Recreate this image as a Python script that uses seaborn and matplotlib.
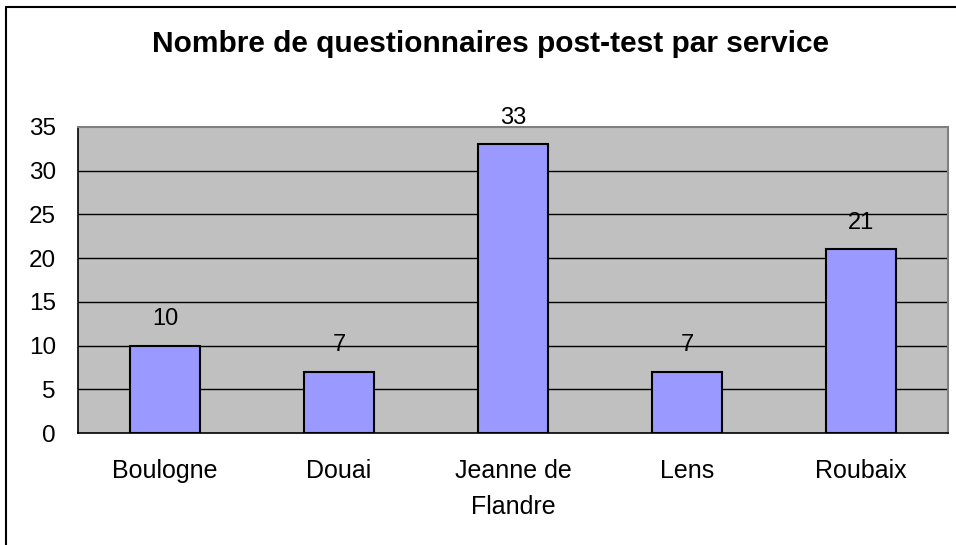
import matplotlib
matplotlib.use("Agg")
import matplotlib.pyplot as plt
import seaborn as sns
import pandas as pd
import numpy as np

services = ["Boulogne", "Douai", "Jeanne de\nFlandre", "Lens", "Roubaix"]
counts = [10, 7, 33, 7, 21]
y_ticks = [0, 5, 10, 15, 20, 25, 30, 35]

df = pd.DataFrame({"Service": services, "Nombre": counts})

sns.set_style("white")
plt.rcParams["font.family"] = ["Liberation Sans", "DejaVu Sans"]
plt.rcParams["text.color"] = "black"
plt.rcParams["xtick.color"] = "black"
plt.rcParams["ytick.color"] = "black"

fig = plt.figure(figsize=(9.56, 5.45), dpi=100)
ax = fig.add_axes([0.0816, 0.2055, 0.91, 0.5615])
ax.set_facecolor("#c0c0c0")

sns.barplot(data=df, x="Service", y="Nombre", color="#9999ff", width=0.4,
            edgecolor="black", linewidth=1.5, saturation=1, ax=ax, zorder=3)

ax.set_ylim(0, 35)
ax.set_xlim(-0.5, len(services) - 0.5)
ax.set_yticks(y_ticks)
for v in y_ticks[1:-1]:
    ax.axhline(v, color="black", linewidth=1, zorder=1)

# category boundary ticks on the x axis
ax.set_xticks(np.arange(len(services)))
ax.set_xticklabels(services, fontsize=18, linespacing=1.6)
ax.tick_params(axis="x", length=0, pad=19)
ax.set_xticks(np.arange(len(services) + 1) - 0.5, minor=True)
ax.tick_params(axis="x", which="minor", length=6, width=1, color="black", direction="out")
ax.tick_params(axis="y", length=6, width=1, color="black", direction="out", labelsize=17.5, pad=10)

for s in ["top", "right"]:
    ax.spines[s].set_color("#808080")
    ax.spines[s].set_linewidth(1.5)
for s in ["left", "bottom"]:
    ax.spines[s].set_color("black")
    ax.spines[s].set_linewidth(1.2)
ax.spines["top"].set_zorder(4)

for i, v in enumerate(counts):
    ax.annotate(str(v), (i, v), xytext=(0, 15), textcoords="offset points",
                ha="center", va="baseline", fontsize=17, color="black")

ax.set_xlabel("")
ax.set_ylabel("")

fig.text(490 / 956, 1 - 44 / 545, "Nombre de questionnaires post-test par service",
         ha="center", va="center", fontsize=21.5, fontweight="bold", color="black")

# outer chart frame
fig.add_artist(plt.Line2D([6 / 956, 6 / 956], [0, 1 - 7 / 545], color="black", linewidth=1.5))
fig.add_artist(plt.Line2D([6 / 956, 1], [1 - 7 / 545, 1 - 7 / 545], color="black", linewidth=1.5))

fig.savefig("out.png", dpi=100)
